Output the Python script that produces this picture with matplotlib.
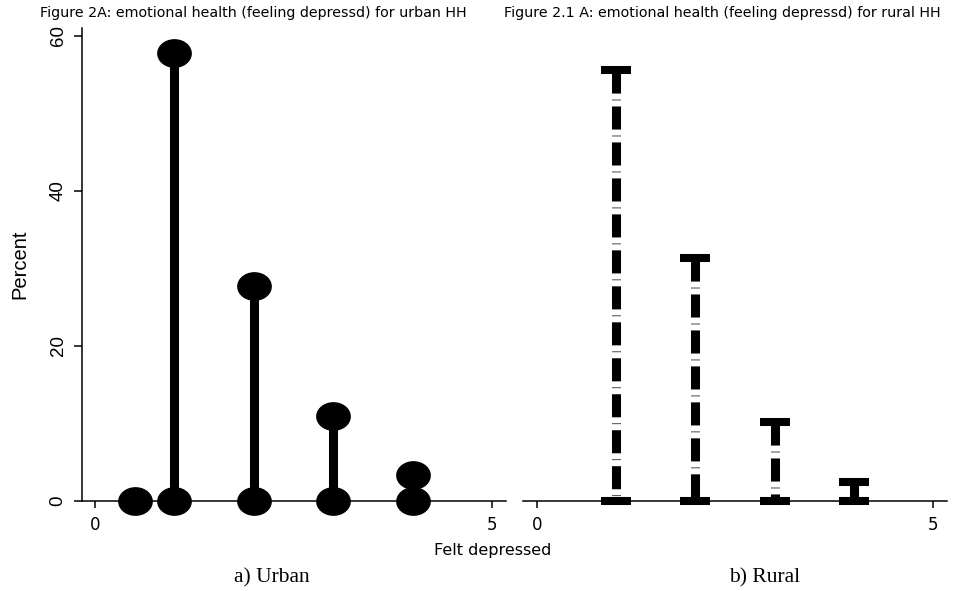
import numpy as np
import matplotlib.pyplot as plt
from matplotlib.path import Path

plt.rcParams['lines.scale_dashes'] = False

# percent of households by "felt depressed" score
levels = [1, 2, 3, 4]
urban_pct = [57.8, 27.7, 11.0, 3.4]
rural_pct = [55.6, 31.4, 10.2, 2.5]
urban_base_x = [0.5, 1, 2, 3, 4]

title_urban = 'Figure 2A: emotional health (feeling depressd) for urban HH'
title_rural = 'Figure 2.1 A: emotional health (feeling depressd) for rural HH'
xticks = [0, 5]
yticks = [0, 20, 40, 60]

sans = ['Liberation Sans', 'DejaVu Sans']
wide = ['DejaVu Sans']
serif = ['Liberation Serif', 'DejaVu Serif']

fig = plt.figure(figsize=(9.61, 5.91), dpi=100)
ax1 = fig.add_axes([82 / 961, 90 / 591, 424 / 961, 473 / 591])
ax2 = fig.add_axes([523 / 961, 90 / 591, 424 / 961, 473 / 591])

# wide ellipse marker for the urban stems
t = np.linspace(0, 2 * np.pi, 60)
ellipse = Path(np.column_stack([np.cos(t), 0.82 * np.sin(t)]), closed=True)

# urban: solid spikes with ellipse heads and feet
ax1.vlines(levels, 0, urban_pct, color='black', lw=6.5, zorder=2)
ax1.plot(levels, urban_pct, ls='none', marker=ellipse, ms=24, color='black',
         clip_on=False, zorder=3)
ax1.plot(urban_base_x, [0] * len(urban_base_x), ls='none', marker=ellipse,
         ms=24, color='black', clip_on=False, zorder=3)

# rural: dash-dot spikes with flat caps
for x, v in zip(levels, rural_pct):
    ax2.plot([x, x], [v, 0], color='black', lw=6.5, solid_capstyle='butt',
             dash_capstyle='butt', dashes=(16.6, 4.4, 0.5, 4.4), zorder=2)
ax2.plot(levels, rural_pct, ls='none', marker='_', ms=21, mew=5.8,
         color='black', clip_on=False, zorder=3)
ax2.plot(levels, [0] * len(levels), ls='none', marker='_', ms=21, mew=5.8,
         color='black', clip_on=False, zorder=3)

for ax in (ax1, ax2):
    ax.set_ylim(0, 61)
    ax.set_xticks(xticks)
    ax.set_xticklabels([str(v) for v in xticks], family=wide, fontsize=12)
    for s in ('top', 'right'):
        ax.spines[s].set_visible(False)
    ax.spines['bottom'].set_linewidth(1.1)
    ax.tick_params(axis='x', length=5, width=1.1, pad=5.5)
    ax.set_facecolor('white')

ax1.set_xlim(-0.164, 5.177)
ax2.set_xlim(-0.177, 5.177)

ax1.spines['left'].set_linewidth(1.1)
ax1.set_yticks(yticks)
ax1.set_yticklabels([str(v) for v in yticks], family=sans, fontsize=13.5,
                    rotation=90, va='center')
ax1.tick_params(axis='y', length=6, width=1.1, pad=5)
ax1.set_ylabel('Percent', family=sans, fontsize=14.5)
ax1.yaxis.set_label_coords(-0.123, 0.5)

ax2.spines['left'].set_visible(False)
ax2.set_yticks([])

fig.text(40 / 961, 1 - 13 / 591, title_urban, family=wide,
         fontsize=10.3, va='center', ha='left')
fig.text(504 / 961, 1 - 13 / 591, title_rural, family=wide,
         fontsize=10.3, va='center', ha='left')
fig.text(493 / 961, 1 - 550 / 591, 'Felt depressed', family=wide,
         fontsize=11.5, ha='center', va='center')
fig.text(272 / 961, 1 - 578 / 591, 'a) Urban', family=serif, fontsize=15.5,
         ha='center', va='center')
fig.text(765 / 961, 1 - 578 / 591, 'b) Rural', family=serif, fontsize=15.5,
         ha='center', va='center')

fig.savefig('out.png', dpi=100, facecolor='white')
